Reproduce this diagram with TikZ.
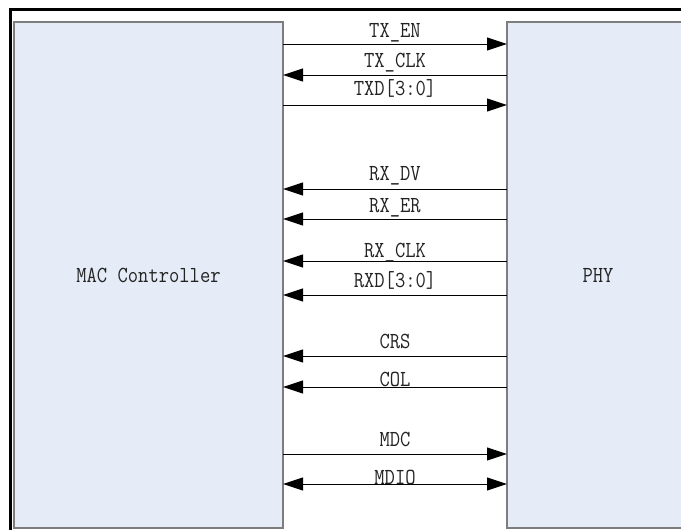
\documentclass[tikz,border=0pt]{standalone}
\usepackage{fontspec}
\setmonofont[FakeStretch=0.87]{Latin Modern Mono}
\usetikzlibrary{arrows.meta}
\definecolor{boxfill}{RGB}{230,236,247}
\definecolor{boxline}{RGB}{125,125,125}
\definecolor{txt}{RGB}{35,35,35}
\tikzset{
  sigfont/.style={font=\ttfamily\fontsize{23}{23}\selectfont,text=txt},
  block/.style={draw=boxline,fill=boxfill,line width=1.2pt,inner sep=0pt,outer sep=0pt,sigfont},
  sig/.style={line width=1pt},
  toR/.style={-{Triangle[length=20pt,width=13pt]}},
  toL/.style={{Triangle[length=20pt,width=13pt]}-},
  toB/.style={{Triangle[length=20pt,width=13pt]}-{Triangle[length=20pt,width=13pt]}},
  lab/.style={anchor=base,inner sep=0pt,sigfont}
}
\begin{document}
\begin{tikzpicture}[x=1pt,y=-1pt]
\useasboundingbox (0,0) rectangle (681,530);
\draw[line width=3pt] (10.5,9.5) rectangle (720,570);
\node[block,minimum width=269pt,minimum height=506pt] (mac) at (148.5,275) {MAC Controller};
\node[block,minimum width=182pt,minimum height=506pt] (phy) at (598,275) {PHY};
\foreach \y/\b/\t/\d [count=\i] in {
  44/37/{TX\_EN}/toR,
  75/67/{TX\_CLK}/toL,
  105/95/{TXD[3:0]}/toR,
  189/180/{RX\_DV}/toL,
  219/212/{RX\_ER}/toL,
  261/257/{RX\_CLK}/toL,
  295/287/{RXD[3:0]}/toL,
  356/348/{CRS}/toL,
  387/386/{COL}/toL,
  454/446/{MDC}/toR,
  484/484/{MDIO}/toB}{
  \coordinate (s\i) at (0,\y);
  \draw[sig,\d] (mac.east |- s\i) -- (phy.west |- s\i);
  \node[lab] (l\i) at (395,\b) {\t};
}
\end{tikzpicture}
\end{document}
